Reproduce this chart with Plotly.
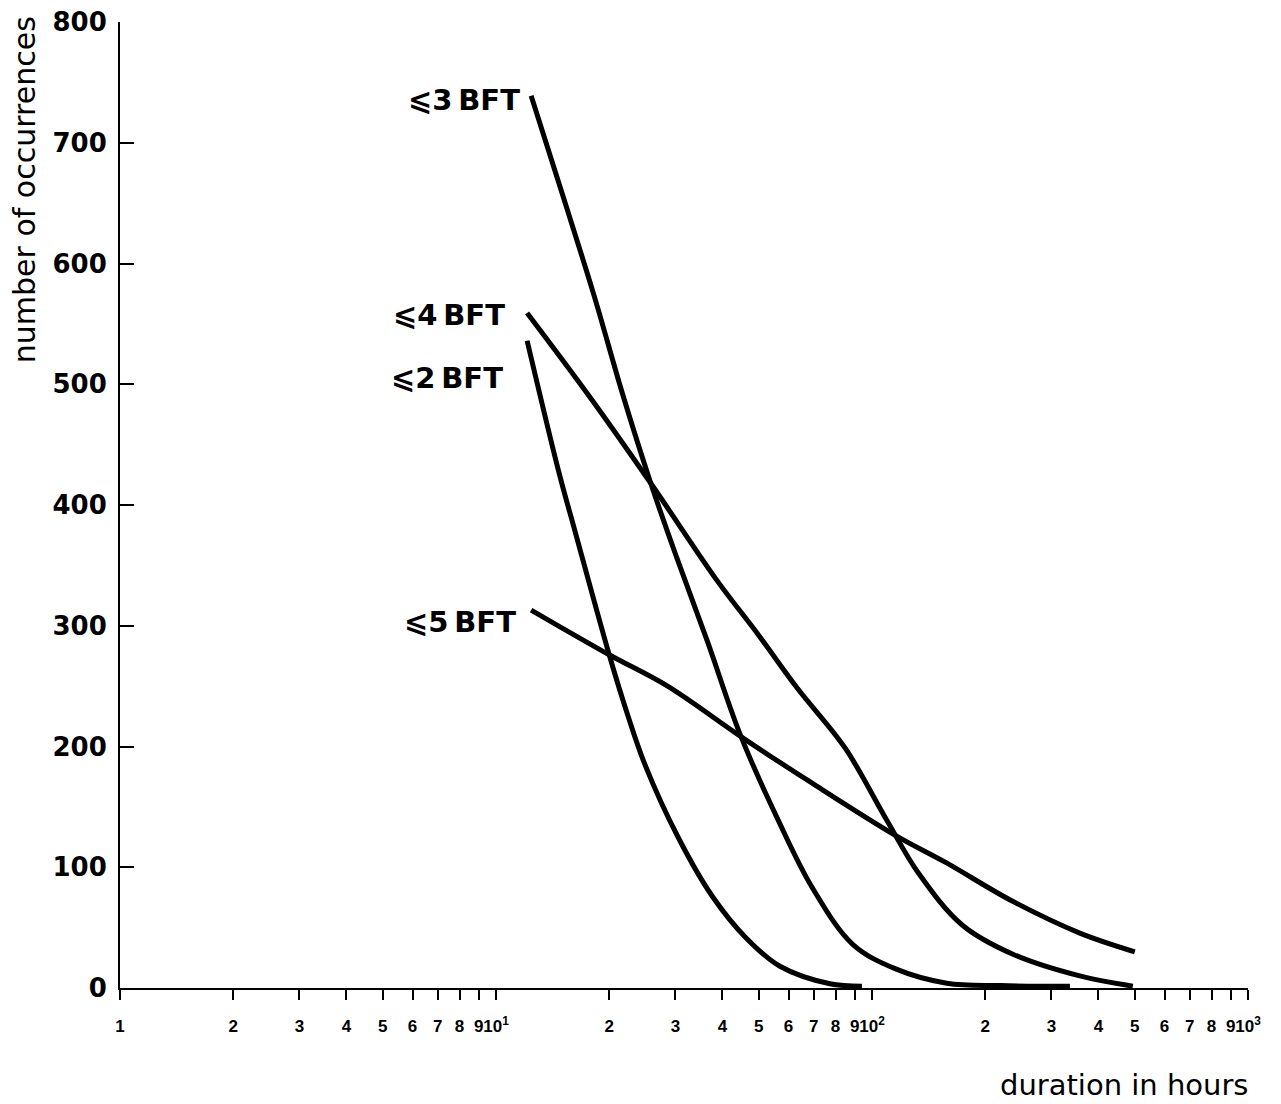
import plotly.graph_objects as go

# ---- data (duration in hours, number of occurrences) ----
dur_le3 = [12.4, 15.1, 18.25, 21.8, 25.8, 30.2, 36.5, 44.6, 56.5, 69.4, 89, 116, 158, 220, 336]
occ_le3 = [739, 655, 573, 490, 418, 357, 287, 210, 138, 83, 36, 15.6, 4, 2, 1.5]

dur_le2 = [12.1, 14.7, 16.2, 20.0, 22.3, 24.9, 30.6, 37.6, 46.4, 56.9, 77.3, 94]
occ_le2 = [536, 427, 379, 276, 228, 185, 124, 76, 41, 18, 3.5, 1.5]

dur_le4 = [12.1, 18.0, 25.8, 38.6, 50.0, 63.4, 84.7, 109, 133, 174, 237, 357, 494]
occ_le4 = [559, 487, 418, 338, 292, 248, 199, 140, 95, 52, 28, 10, 1.5]

dur_le5 = [12.4, 20.0, 28.6, 44.9, 69, 116, 157, 236, 357, 500]
occ_le5 = [313, 276, 250, 208, 170, 126, 104, 72, 45.5, 30]

series_names = ["⩽3\u2009BFT", "⩽2\u2009BFT", "⩽4\u2009BFT", "⩽5\u2009BFT"]

y_ticks = [0, 100, 200, 300, 400, 500, 600, 700, 800]
x_ticks = [1, 2, 3, 4, 5, 6, 7, 8, 9, 10,
           20, 30, 40, 50, 60, 70, 80, 90, 100,
           200, 300, 400, 500, 600, 700, 800, 900, 1000]
x_ticktext = ["1", "2", "3", "4", "5", "6", "7", "8", "9", "10<sup>1</sup>",
              "2", "3", "4", "5", "6", "7", "8", "9", "10<sup>2</sup>",
              "2", "3", "4", "5", "6", "7", "8", "9", "10<sup>3</sup>"]

fig = go.Figure()
for xs, ys, name in [(dur_le3, occ_le3, series_names[0]),
                     (dur_le2, occ_le2, series_names[1]),
                     (dur_le4, occ_le4, series_names[2]),
                     (dur_le5, occ_le5, series_names[3])]:
    fig.add_trace(go.Scatter(x=xs, y=ys, mode="lines", name=name,
                             line=dict(color="black", width=5, shape="spline", smoothing=1.0),
                             showlegend=False))

bold = dict(family="DejaVu Sans", color="black", weight="bold")

# series labels (paper coords)
labels = [(series_names[0], 0.3564, 0.919),
          (series_names[2], 0.3431, 0.6967),
          (series_names[1], 0.3413, 0.6315),
          (series_names[3], 0.3528, 0.3789)]
annotations = []
for txt, xp, yp in labels:
    annotations.append(dict(text=txt, x=xp, y=yp, xref="paper", yref="paper",
                            xanchor="right", yanchor="middle", showarrow=False,
                            font=dict(size=29, **bold)))

annotations.append(dict(text="number of occurrences", x=-0.085, y=0.826,
                        xref="paper", yref="paper", xanchor="center", yanchor="middle",
                        textangle=-90, showarrow=False,
                        font=dict(family="DejaVu Sans", size=30, color="black")))
annotations.append(dict(text="duration in hours", x=1.0018, y=-0.1004,
                        xref="paper", yref="paper", xanchor="right", yanchor="middle",
                        showarrow=False,
                        font=dict(family="DejaVu Sans", size=29, color="black")))

fig.update_layout(
    template="none",
    width=1281, height=1104, autosize=False,
    margin=dict(l=120, r=33, t=22, b=116),
    paper_bgcolor="white", plot_bgcolor="white",
    annotations=annotations,
    xaxis=dict(type="log", range=[0, 3], showgrid=False, zeroline=False,
               automargin=False, tickangle=0,
               showline=True, linecolor="black", linewidth=2,
               ticks="outside", ticklen=10, tickwidth=2, tickcolor="black",
               tickvals=x_ticks, ticktext=x_ticktext,
               tickfont=dict(family="Liberation Sans", size=17, color="black", weight="bold"),
               ticklabelstandoff=12),
    yaxis=dict(range=[0, 800], showgrid=False, zeroline=False,
               automargin=False,
               showline=True, linecolor="black", linewidth=2,
               ticks="inside", ticklen=14, tickwidth=2, tickcolor="black",
               tickvals=y_ticks, tickfont=dict(size=26, **bold),
               ticklabelstandoff=6),
)

fig.write_html("out.html")
